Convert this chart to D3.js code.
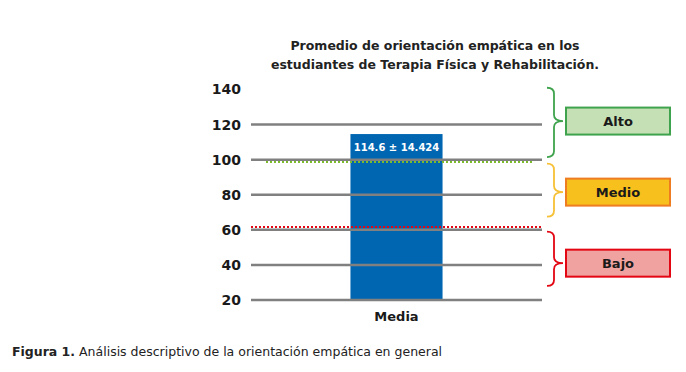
<!DOCTYPE html>
<meta charset="utf-8">
<style>
body { margin: 0; background: #fff; }
text { font-family: "DejaVu Sans", sans-serif; }
</style>
<body>
<svg width="686" height="372"></svg>
<script src="https://cdn.jsdelivr.net/npm/d3@7"></script>
<script>

// data
var categories = ["Media"];
var means = [114.6];
var sds = [14.424];
var yTicks = [20, 40, 60, 80, 100, 120, 140];
var gridTicks = [20, 40, 60, 80, 100, 120];
var cutLines = [98.7, 61.6];          // green (alto) and red (bajo) cut lines
var cutColors = ["#7dbb2e", "#e30613"];
var levels = ["Alto", "Medio", "Bajo"];
var levelFrom = [101.5, 67.5, 28];
var levelTo = [141, 97.7, 59];
var levelMid = [122, 81.5, 41];
var levelStroke = ["#3fa34d", "#f7c137", "#e30613"];
var boxFill = ["#c5e0b4", "#f8c01c", "#f0a2a0"];
var boxStroke = ["#3fa34d", "#ee7d22", "#e30613"];

var svg = d3.select("svg");

var x = d3.scaleBand().domain(categories).range([251, 542]).paddingInner(0).paddingOuter(1.08);
var y = d3.scaleLinear().domain([20, 140]).range([300, 89.5]);

// title
var title = svg.append("text")
    .attr("x", 435).attr("y", 50)
    .attr("text-anchor", "middle")
    .attr("font-weight", "bold").attr("font-size", 12.5)
    .attr("fill", "#222");
title.append("tspan").attr("x", 435).text("Promedio de orientación empática en los");
title.append("tspan").attr("x", 435).attr("dy", 19).text("estudiantes de Terapia Física y Rehabilitación.");

// bar
svg.append("g").selectAll("rect")
  .data(means)
  .enter().append("rect")
    .attr("x", function(d, i) { return x(categories[i]); })
    .attr("width", x.bandwidth())
    .attr("y", function(d) { return y(d); })
    .attr("height", function(d) { return y(20) - y(d); })
    .attr("fill", "#0066b2");

// gridlines (drawn over the bar like the original)
svg.append("g").selectAll("line")
  .data(gridTicks)
  .enter().append("line")
    .attr("x1", 251).attr("x2", 542)
    .attr("y1", function(d) { return y(d); })
    .attr("y2", function(d) { return y(d); })
    .attr("stroke", "#808080").attr("stroke-width", 2.5);

// y axis labels
var yAxis = d3.axisLeft(y).tickValues(yTicks).tickSize(0).tickPadding(0);
svg.append("g")
    .attr("transform", "translate(241,0)")
    .call(yAxis)
    .call(function(g) { g.select(".domain").remove(); })
    .selectAll("text")
      .attr("font-size", 14).attr("font-weight", "bold").attr("fill", "#1a1a1a")
      .style("font-family", "DejaVu Sans, sans-serif");

// value label
svg.append("g").selectAll("text")
  .data(means)
  .enter().append("text")
    .attr("x", function(d, i) { return x(categories[i]) + x.bandwidth() / 2; })
    .attr("y", function(d) { return y(d) + 17; })
    .attr("text-anchor", "middle")
    .attr("font-size", 10).attr("font-weight", "bold").attr("fill", "#fff")
    .text(function(d, i) { return d + " ± " + sds[i]; });

// category label
svg.append("g").selectAll("text")
  .data(categories)
  .enter().append("text")
    .attr("x", function(d) { return x(d) + x.bandwidth() / 2; })
    .attr("y", 321)
    .attr("text-anchor", "middle")
    .attr("font-size", 13).attr("font-weight", "bold").attr("fill", "#1a1a1a")
    .text(function(d) { return d; });

// dotted cut lines
svg.append("g").selectAll("line")
  .data(cutLines)
  .enter().append("line")
    .attr("x1", function(d, i) { return i === 0 ? 266 : 251; })
    .attr("x2", function(d, i) { return i === 0 ? 533 : 542; })
    .attr("y1", function(d) { return y(d); })
    .attr("y2", function(d) { return y(d); })
    .attr("stroke", function(d, i) { return cutColors[i]; })
    .attr("stroke-width", 2)
    .attr("stroke-dasharray", "2,2");

// braces
function brace(y0, y1, ym) {
  var xl = 547, xv = 554, xt = 563, r = 6;
  return "M" + xl + "," + y0 +
    " Q" + xv + "," + y0 + " " + xv + "," + (y0 + r) +
    " L" + xv + "," + (ym - r) +
    " Q" + xv + "," + ym + " " + xt + "," + ym +
    " Q" + xv + "," + ym + " " + xv + "," + (ym + r) +
    " L" + xv + "," + (y1 - r) +
    " Q" + xv + "," + y1 + " " + xl + "," + y1;
}
svg.append("g").selectAll("path")
  .data(levels)
  .enter().append("path")
    .attr("d", function(d, i) { return brace(y(levelTo[i]), y(levelFrom[i]), y(levelMid[i])); })
    .attr("fill", "none")
    .attr("stroke", function(d, i) { return levelStroke[i]; })
    .attr("stroke-width", 1.8);

// level boxes
var boxes = svg.append("g").selectAll("g")
  .data(levels)
  .enter().append("g");
boxes.append("rect")
    .attr("x", 566).attr("width", 104)
    .attr("y", function(d, i) { return y(levelMid[i]) - 13.5; })
    .attr("height", 27)
    .attr("fill", function(d, i) { return boxFill[i]; })
    .attr("stroke", function(d, i) { return boxStroke[i]; })
    .attr("stroke-width", 2);
boxes.append("text")
    .attr("x", 618)
    .attr("y", function(d, i) { return y(levelMid[i]) + 5; })
    .attr("text-anchor", "middle")
    .attr("font-size", 13).attr("font-weight", "bold").attr("fill", "#1a1a1a")
    .text(function(d) { return d; });

// caption
var cap = svg.append("text")
    .attr("x", 12).attr("y", 356)
    .attr("font-size", 12.5).attr("fill", "#222");
cap.append("tspan").attr("font-weight", "bold").text("Figura 1.");
cap.append("tspan").text(" Análisis descriptivo de la orientación empática en general");

</script>
</body>
